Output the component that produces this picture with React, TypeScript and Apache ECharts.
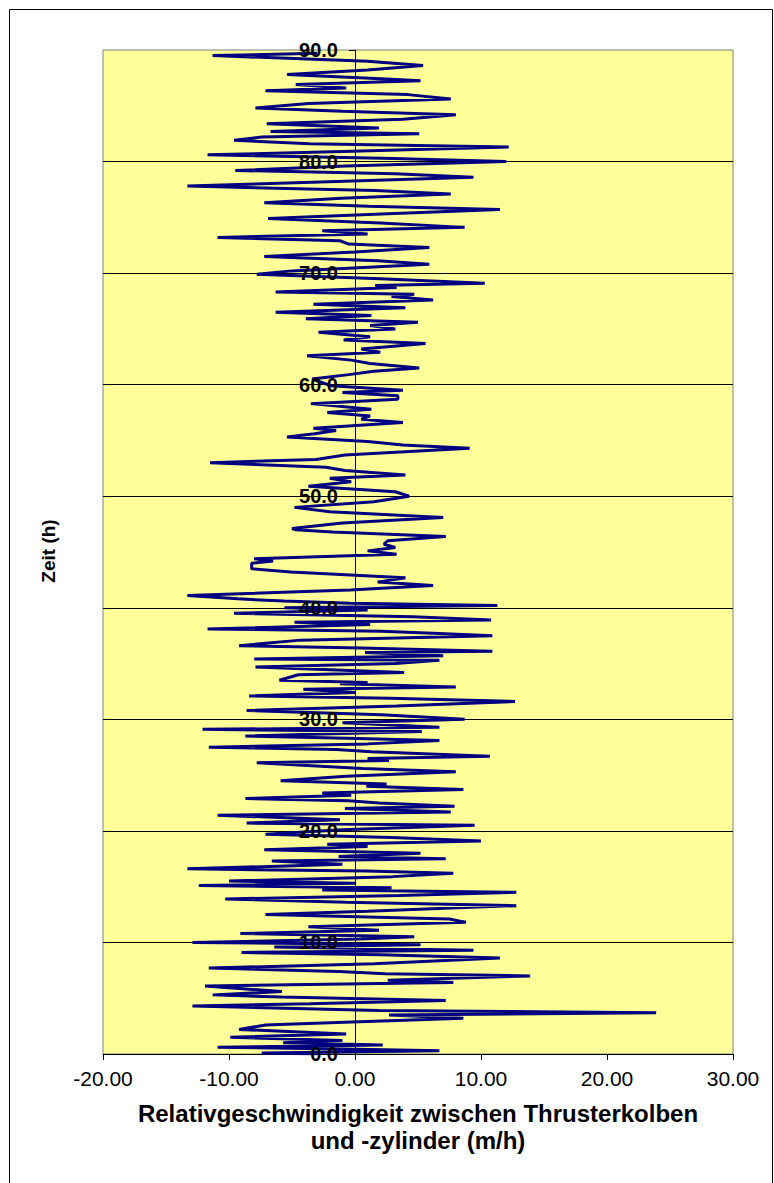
import React, { useEffect, useRef } from "react";
import * as echarts from "echarts";

// [time (h), relative velocity (m/h)], grouped by 10-hour bands
const band0to10: number[][] = [
  [0.0, -3], [0.1, -7.4], [0.3, 6.7], [0.45, -1], [0.6, -10.9], [0.8, 2.2], [1.0, -5.7], [1.2, -1],
  [1.5, -9.9], [1.8, -0.7], [2.2, -9.2], [2.6, -7.1], [2.8, -2], [3.2, 8.6], [3.5, 2.7], [3.7, 23.9],
  [3.9, 1.9], [4.3, -12.9], [4.5, -3.6], [4.8, 7.2], [5.1, -5.8], [5.3, -11.3], [5.6, -5.8], [6.1, -11.9],
  [6.4, 7.8], [6.6, 2.6], [7.0, 13.9], [7.2, 2.4], [7.4, -1.3], [7.7, -11.6], [8.1, 1.5], [8.6, 11.5],
  [8.9, 2], [9.1, -9.0], [9.3, 9.4], [9.6, -6.4], [9.8, 5.2],
];
const band10to20: number[][] = [
  [10.0, -12.9], [10.3, 0.5], [10.5, 4.7], [10.8, -9.1], [11.1, 1.9], [11.4, -3.7], [11.8, 8.8],
  [12.1, 7.5], [12.5, -7.1], [12.8, 1.0], [13.3, 12.8], [13.6, -0.7], [13.9, -10.3], [14.2, 3.5],
  [14.5, 12.8], [14.7, -2.6], [14.9, 2.9], [15.1, -12.4], [15.3, 0], [15.5, -10.0], [15.9, 3],
  [16.2, 7.8], [16.4, 0.9], [16.6, -13.3], [17.0, -1], [17.3, -6.6], [17.5, 7.2], [17.7, -1.3],
  [18.0, 5.2], [18.3, -7.2], [18.6, 1.0], [18.8, -2.2], [19.1, 10.0], [19.4, 2.9], [19.7, -7.1],
];
const band20to30: number[][] = [
  [20.1, -1], [20.5, 9.5], [20.7, -8.6], [21.0, -1.2], [21.4, -10.9], [21.7, 7.6], [22.0, -0.8],
  [22.2, 7.9], [22.5, 1.9], [22.7, -0.5], [22.9, -8.7], [23.2, -0.3], [23.4, -2.6], [23.7, 8.6],
  [24.0, 0.9], [24.2, 2.5], [24.5, -5.9], [24.9, -0.7], [25.3, 8.0], [25.6, 0.6], [26.1, -7.8],
  [26.3, 2.7], [26.5, 1], [26.7, 10.7], [27.1, 1.3], [27.3, -1.5], [27.5, -11.6], [27.8, 1],
  [28.1, 6.7], [28.3, -0.6], [28.5, -8.7], [28.9, 5.3], [29.1, -12.1], [29.3, 6.7], [29.7, -1],
];
const band30to40: number[][] = [
  [30.0, 8.7], [30.4, 2.1], [30.8, -8.6], [31.2, 3.3], [31.6, 12.7], [31.9, 2.8], [32.1, -8.4],
  [32.4, 0], [32.7, -4.1], [32.9, 8.0], [33.2, -1.2], [33.3, 1.0], [33.5, -6.0], [34.0, -4.5],
  [34.2, 3.9], [34.7, -7.9], [35.0, 3.2], [35.3, 6.7], [35.4, -8.0], [35.7, 7.0], [36.0, 0.8],
  [36.1, 10.9], [36.4, 0.5], [36.6, -9.2], [37.1, -4.3], [37.5, 10.9], [37.7, 6.7], [37.9, 2.1],
  [38.1, -11.7], [38.5, 1.2], [38.7, -4.8], [38.9, 10.8], [39.2, 4.6], [39.5, -9.6], [39.8, 1.0],
];
const band40to50: number[][] = [
  [40.0, -5.6], [40.2, 11.3], [40.4, -0.4], [40.6, -5.6], [40.8, -9.3], [41.1, -13.3], [41.6, -0.4],
  [42.0, 6.2], [42.3, 1.8], [42.7, 4.0], [43.2, -5.1], [43.5, -8.2], [44.0, -8.2], [44.2, -6.5],
  [44.4, -8], [44.8, 3.3], [45.1, 1.0], [45.4, 3.2], [45.7, 2.3], [46.0, 2.6], [46.4, 7.2],
  [46.8, -1.8], [47.0, -4.7], [47.1, -5.0], [47.6, -1], [48.1, 7.0], [48.6, -2], [49.0, -4.8],
  [49.5, 1.5],
];
const band50to60: number[][] = [
  [50.0, 4.3], [50.4, 3.2], [50.9, -3.7], [51.3, -0.3], [51.6, -2.0], [51.9, 4.0], [52.3, -0.8],
  [52.6, -2.3], [53.0, -11.5], [53.3, -3.1], [53.7, -0.8], [54.3, 9.1], [54.6, 3.8], [54.9, 1.0],
  [55.3, -5.4], [55.6, -3.2], [55.9, -1.5], [56.1, -3.3], [56.6, 3.8], [56.9, 0.5], [57.2, 1.2],
  [57.5, -2.2], [57.8, 1.3], [58.3, -3.5], [58.7, 3.4], [59.0, 3.4], [59.3, -1], [59.5, 3.8],
  [59.9, -1.9],
];
const band60to70: number[][] = [
  [60.5, -3.4], [60.9, -0.5], [61.2, 1.5], [61.5, 5.1], [61.9, 1.2], [62.2, -0.3], [62.6, -3.8],
  [62.9, 2], [63.2, 0.5], [63.7, 5.6], [64.0, -0.9], [64.3, 1.2], [64.7, -2.9], [65.0, 3.2],
  [65.3, 1.2], [65.6, 5.0], [65.9, -3.9], [66.2, 1.3], [66.5, -6.3], [66.9, 4.0], [67.2, -3.3],
  [67.6, 6.2], [67.9, 2.9], [68.1, 4.7], [68.3, -6.3], [68.7, 3.3], [68.9, 1.6], [69.1, 10.3],
  [69.5, 2], [69.9, -7.8],
];
const band70to80: number[][] = [
  [70.2, -5], [70.8, 5.9], [71.1, 1.8], [71.5, -7.2], [71.9, 0], [72.3, 5.9], [72.6, -0.5],
  [72.9, -1.2], [73.2, -10.9], [73.5, 1], [73.8, -2.6], [74.1, 8.7], [74.5, 2], [74.9, -6.9],
  [75.3, 2.1], [75.7, 11.5], [76.0, 1.1], [76.3, -7.2], [76.7, -1.1], [77.1, 7.6], [77.4, 1.6],
  [77.8, -13.3], [78.2, -2.1], [78.6, 9.4], [78.9, 3.2], [79.2, -9.5], [79.6, -0.7],
];
const band80to90: number[][] = [
  [80.0, 12.0], [80.3, 2.2], [80.6, -11.7], [80.9, -1], [81.3, 12.2], [81.6, -3.6], [81.9, -9.6],
  [82.2, -7.4], [82.5, 5.1], [82.7, -6.7], [83.0, 1.9], [83.4, -7.0], [83.8, 3.8], [84.2, 8.0],
  [84.5, -1], [84.8, -7.9], [85.2, -3.7], [85.6, 7.6], [86.0, 4.2], [86.35, -7.1], [86.6, -0.7],
  [86.9, -4.7], [87.25, 5.2], [87.4, 2.5], [87.8, -5.4], [88.2, 1], [88.6, 5.4], [89.0, 1],
  [89.5, -11.3], [89.7, -3],
];

const xMin = -20;
const xMax = 30;
const xStep = 10;
const yMin = 0;
const yMax = 90;
const yStep = 10;

const xTitle = "Relativgeschwindigkeit zwischen Thrusterkolben\nund -zylinder (m/h)";
const yTitle = "Zeit (h)";

const FONT = '"Liberation Sans", Arial, Helvetica, sans-serif';

const W = 774;
const H = 1183;
const GRID_LEFT = 103;
const GRID_RIGHT = 41;

export default function App() {
  const ref = useRef<HTMLDivElement | null>(null);

  useEffect(() => {
    if (!ref.current) return;
    const chart = echarts.init(ref.current, undefined, { renderer: "svg" });
    const trace = [
      ...band0to10, ...band10to20, ...band20to30, ...band30to40, ...band40to50,
      ...band50to60, ...band60to70, ...band70to80, ...band80to90,
    ].map(([t, v]) => [v, t]);

    // distance from the grid's left edge to x = 0, so the label axis sits on the zero line
    const plotW = W - GRID_LEFT - GRID_RIGHT;
    const zeroShift = (plotW * (0 - xMin)) / (xMax - xMin);

    chart.setOption({
      animation: false,
      backgroundColor: "#ffffff",
      grid: {
        left: GRID_LEFT,
        right: GRID_RIGHT,
        top: 50,
        bottom: 129,
        show: true,
        backgroundColor: "#FFFF99",
        borderColor: "#808080",
        borderWidth: 1,
      },
      xAxis: {
        type: "value",
        min: xMin,
        max: xMax,
        interval: xStep,
        position: "bottom",
        axisLine: { onZero: false, lineStyle: { color: "#000", width: 1 } },
        axisTick: { show: true, length: 6, lineStyle: { color: "#000" } },
        axisLabel: {
          formatter: (v: number) => v.toFixed(2),
          fontSize: 21,
          color: "#000",
          fontFamily: FONT,
          margin: 14,
        },
        splitLine: { show: false },
        name: xTitle,
        nameLocation: "middle",
        nameGap: 46,
        nameTextStyle: {
          fontSize: 24,
          fontWeight: "bold",
          lineHeight: 27,
          color: "#000",
          fontFamily: FONT,
        },
      },
      yAxis: [
        {
          type: "value",
          min: yMin,
          max: yMax,
          interval: yStep,
          position: "left",
          z: 0,
          axisLine: {
            show: true,
            onZero: true,
            lineStyle: { color: "#000", width: 1 },
          },
          axisTick: { show: true, length: 6, lineStyle: { color: "#000" } },
          axisLabel: { show: false },
          splitLine: {
            show: true,
            showMinLine: false,
            showMaxLine: false,
            lineStyle: { color: "#000", width: 1 },
          },
        },
        {
          type: "value",
          min: yMin,
          max: yMax,
          interval: yStep,
          position: "left",
          offset: -zeroShift,
          zlevel: 1,
          z: 10,
          axisLine: { show: false, onZero: false },
          axisTick: { show: false },
          axisLabel: {
            formatter: (v: number) => v.toFixed(1),
            fontSize: 20,
            fontWeight: "bold",
            color: "#000",
            fontFamily: FONT,
            margin: 17,
          },
          splitLine: { show: false },
        },
      ],
      series: [
        {
          type: "line",
          data: trace,
          xAxisIndex: 0,
          yAxisIndex: 0,
          showSymbol: false,
          symbol: "none",
          z: 2,
          lineStyle: { color: "#000080", width: 3 },
        },
      ],
      graphic: [
        {
          type: "polyline",
          shape: { points: [[9.5, 1183], [9.5, 9.5], [772.5, 9.5], [772.5, 1183]] },
          style: { stroke: "#000", lineWidth: 1, fill: "none" },
          silent: true,
        },
        {
          type: "text",
          x: 48,
          y: 551,
          rotation: Math.PI / 2,
          style: {
            text: yTitle,
            fontSize: 19,
            fontWeight: "bold",
            fontFamily: FONT,
            fill: "#000",
            align: "center",
            verticalAlign: "middle",
          },
          silent: true,
        },
      ],
    });
    return () => chart.dispose();
  }, []);

  return (
    <div
      ref={ref}
      style={{ position: "absolute", left: 0, top: 0, width: W, height: H }}
    />
  );
}
